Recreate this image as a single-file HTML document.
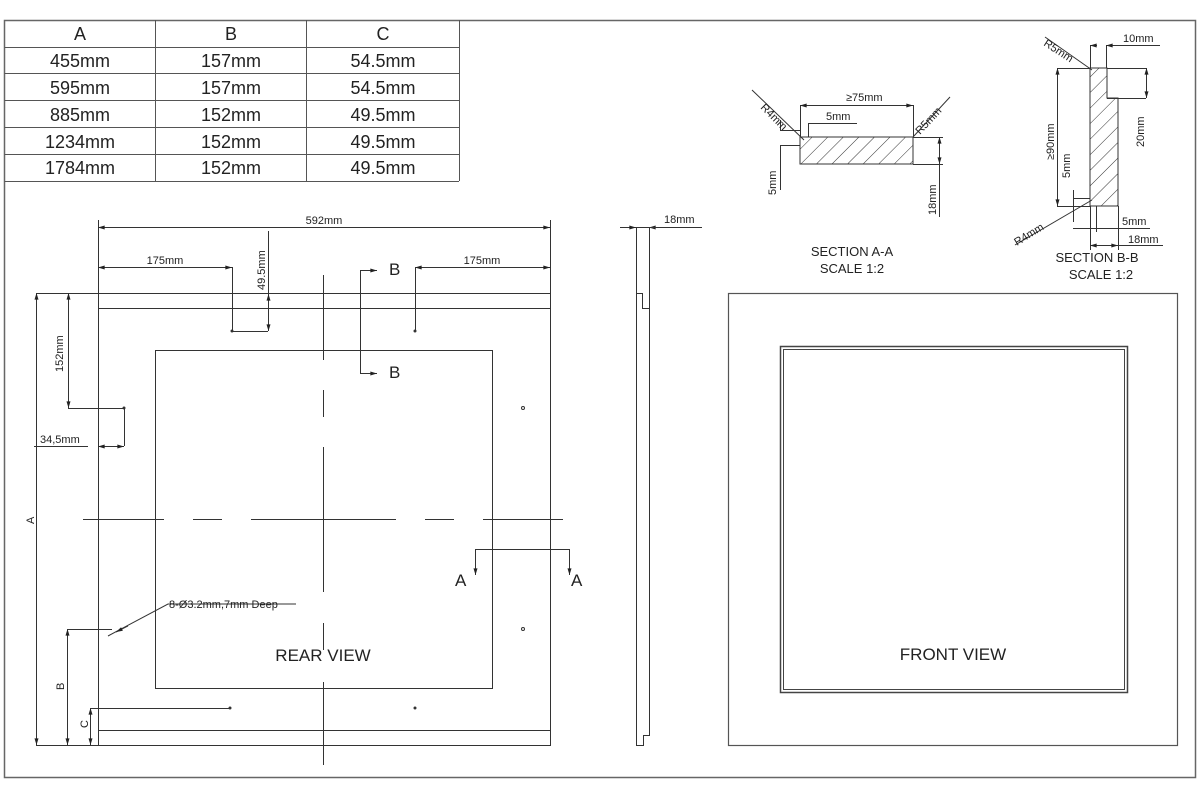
<!DOCTYPE html>
<html><head><meta charset="utf-8"><style>
html,body{margin:0;padding:0;background:#fff;width:1200px;height:800px;overflow:hidden}
svg{display:block}
text{font-family:"Liberation Sans",sans-serif;fill:#222}
</style></head><body>
<svg width="1200" height="800" viewBox="0 0 1200 800" xmlns="http://www.w3.org/2000/svg">
<defs>
<marker id="a" viewBox="0 0 10 6" refX="10" refY="3" markerWidth="8" markerHeight="4" orient="auto-start-reverse"><path d="M0,0L10,3L0,6z" fill="#222"/></marker>
<pattern id="h" patternUnits="userSpaceOnUse" width="11" height="11" patternTransform="rotate(45)"><line x1="0" y1="0" x2="0" y2="11" stroke="#333" stroke-width="1"/></pattern>
</defs>
<g fill="none" stroke="#333" stroke-width="1">
<rect x="4.5" y="20.5" width="1191" height="757" stroke="#666" stroke-width="1.5"/>
<path d="M4.5 47.5H459M4.5 73.5H459M4.5 100.5H459M4.5 127.5H459M4.5 154.5H459M4.5 181.5H459M155.5 20V181M306.5 20V181M459.5 20V181" stroke="#555"/>
</g>
<g font-size="18" text-anchor="middle">
<text x="80" y="40">A</text><text x="231" y="40">B</text><text x="383" y="40">C</text>
<text x="80" y="67">455mm</text><text x="231" y="67">157mm</text><text x="383" y="67">54.5mm</text>
<text x="80" y="94">595mm</text><text x="231" y="94">157mm</text><text x="383" y="94">54.5mm</text>
<text x="80" y="121">885mm</text><text x="231" y="121">152mm</text><text x="383" y="121">49.5mm</text>
<text x="80" y="148">1234mm</text><text x="231" y="148">152mm</text><text x="383" y="148">49.5mm</text>
<text x="80" y="174">1784mm</text><text x="231" y="174">152mm</text><text x="383" y="174">49.5mm</text>
</g>

<!-- REAR VIEW -->
<g fill="none" stroke="#333" stroke-width="1">
<path d="M36 293.5H550.5V745.5H98.5V220M98 308.5H550M98 730.5H550"/>
<rect x="155.5" y="350.5" width="337" height="338"/>
<path d="M323.5 275V360M323.5 390V417M323.5 447V592M323.5 623V650M323.5 682V765"/>
<path d="M83 519.5H164M193 519.5H222M251 519.5H396M425 519.5H454M483 519.5H563"/>
<path d="M550.5 220V293"/>
<path d="M98 227.5H550" marker-start="url(#a)" marker-end="url(#a)"/>
<path d="M98 267.5H232" marker-start="url(#a)" marker-end="url(#a)"/>
<path d="M415 267.5H550" marker-start="url(#a)" marker-end="url(#a)"/>
<path d="M232.5 267V331.5H268"/>
<path d="M415.5 267V331"/>
<path d="M268.5 231V331" />
<path d="M268.5 296V294" marker-end="url(#a)"/>
<path d="M268.5 325V331" marker-end="url(#a)"/>
<path d="M360.5 270V373.5H377M360 270.5H377" />
<path d="M366 270.5H377" marker-end="url(#a)"/>
<path d="M366 373.5H377" marker-end="url(#a)"/>
<path d="M36.5 293V745" marker-start="url(#a)" marker-end="url(#a)"/>
<path d="M68.5 293V408" marker-start="url(#a)" marker-end="url(#a)"/>
<path d="M68 408.5H124.5V446"/>
<path d="M98 446.5H124" marker-start="url(#a)" marker-end="url(#a)"/>
<path d="M34 446.5H88"/>
<path d="M67.5 629V745" marker-start="url(#a)" marker-end="url(#a)"/>
<path d="M67 629.5H112"/>
<path d="M90.5 708V745" marker-start="url(#a)" marker-end="url(#a)"/>
<path d="M90 708.5H230"/>
<path d="M36 745.5H140"/>
<path d="M108 636L168 604H296"/>
<path d="M128 626L116 632" marker-end="url(#a)"/>
<path d="M475.5 575V549.5H569.5V575"/>
<path d="M475.5 565V575" marker-end="url(#a)"/>
<path d="M569.5 565V575" marker-end="url(#a)"/>
</g>
<g fill="#333">
<circle cx="232" cy="331" r="1.5"/><circle cx="415" cy="331" r="1.5"/><circle cx="124" cy="408" r="1.5"/>
<circle cx="230" cy="708" r="1.5"/><circle cx="415" cy="708" r="1.5"/>
</g>
<g fill="none" stroke="#333"><circle cx="523" cy="408" r="1.5"/><circle cx="523" cy="629" r="1.5"/></g>
<g font-size="11">
<text x="324" y="224" text-anchor="middle">592mm</text>
<text x="165" y="264" text-anchor="middle">175mm</text>
<text x="482" y="264" text-anchor="middle">175mm</text>
<text transform="translate(265,290) rotate(-90)">49.5mm</text>
<text transform="translate(63,372) rotate(-90)">152mm</text>
<text x="40" y="443">34,5mm</text>
<text transform="translate(34,524) rotate(-90)">A</text>
<text transform="translate(64,690) rotate(-90)">B</text>
<text transform="translate(88,728) rotate(-90)">C</text>
<text x="169" y="608">8-Ø3.2mm,7mm Deep</text>
</g>
<g font-size="17">
<text x="389" y="275">B</text><text x="389" y="378">B</text>
<text x="455" y="586">A</text><text x="571" y="586">A</text>
<text x="323" y="661" text-anchor="middle">REAR VIEW</text>
<text x="953" y="660" text-anchor="middle">FRONT VIEW</text>
</g>

<!-- SIDE VIEW -->
<g fill="none" stroke="#333">
<path d="M636.5 227V745.5H643.5V735.5H649.5V227"/>
<path d="M636 293.5H642.5V308.5H649"/>
<path d="M620 227.5H636" marker-end="url(#a)"/>
<path d="M665 227.5H649" marker-end="url(#a)"/>
<path d="M636 227.5H702"/>
</g>
<text x="664" y="223" font-size="11">18mm</text>

<!-- FRONT VIEW -->
<g fill="none" stroke="#444">
<rect x="728.5" y="293.5" width="449" height="452" stroke="#555" stroke-width="1.2"/>
<rect x="780.5" y="346.5" width="347" height="346" stroke-width="1.5"/>
<rect x="783.5" y="349.5" width="341" height="340" stroke-width="1"/>
</g>

<!-- SECTION A-A -->
<rect x="800" y="137" width="113" height="27" fill="url(#h)" stroke="#333"/>
<g fill="none" stroke="#333">
<path d="M800.5 105V137M913.5 105V137"/>
<path d="M800 105.5H913" marker-start="url(#a)" marker-end="url(#a)"/>
<path d="M808.5 123V137M808 123.5H857"/>
<path d="M752 90L804 140"/>
<path d="M913 137L950 97"/>
<path d="M913 137.5H943M913 164.5H943"/>
<path d="M939.5 137V164" marker-start="url(#a)" marker-end="url(#a)"/>
<path d="M939.5 164V217"/>
<path d="M780 130.5H800M780 145.5H800"/>
<path d="M780.5 120V130" />
<path d="M780.5 145V190"/>
</g>
<g font-size="11">
<text x="846" y="101">≥75mm</text>
<text x="826" y="120">5mm</text>
<text transform="translate(760,108) rotate(45)">R4mm</text>
<text transform="translate(920,135) rotate(-47)">R5mm</text>
<text transform="translate(936,215) rotate(-90)">18mm</text>
<text transform="translate(776,195) rotate(-90)">5mm</text>
</g>
<g font-size="13" text-anchor="middle">
<text x="852" y="256">SECTION A-A</text><text x="852" y="273">SCALE 1:2</text>
</g>

<!-- SECTION B-B -->
<path d="M1090 68H1107V98H1118V206H1090Z" fill="url(#h)" stroke="#333"/>
<g fill="none" stroke="#333">
<path d="M1107 68.5H1146M1107 98.5H1146"/>
<path d="M1146.5 68V98" marker-start="url(#a)" marker-end="url(#a)"/>
<path d="M1090.5 45V68M1106.5 45V68"/>
<path d="M1106 45.5H1160"/>
<path d="M1097 45.5H1090" marker-end="url(#a)"/>
<path d="M1115 45.5H1106" marker-end="url(#a)"/>
<path d="M1057 68.5H1090M1057 206.5H1090"/>
<path d="M1057.5 68V206" marker-start="url(#a)" marker-end="url(#a)"/>
<path d="M1045 37L1092 70"/>
<path d="M1073.5 190V222M1073 198.5H1090"/>
<path d="M1015 245L1092 200"/>
<path d="M1090.5 206V250M1118.5 206V250M1096.5 206V232"/>
<path d="M1073 228.5H1150"/>
<path d="M1090 245.5H1163"/>
<path d="M1100 245.5H1090" marker-end="url(#a)"/>
<path d="M1108 245.5H1118" marker-end="url(#a)"/>
</g>
<g font-size="11">
<text x="1123" y="42">10mm</text>
<text transform="translate(1043,45) rotate(33)">R5mm</text>
<text transform="translate(1144,147) rotate(-90)">20mm</text>
<text transform="translate(1054,160) rotate(-90)">≥90mm</text>
<text transform="translate(1070,178) rotate(-90)">5mm</text>
<text transform="translate(1017,246) rotate(-32)">R4mm</text>
<text x="1122" y="225">5mm</text>
<text x="1128" y="243">18mm</text>
</g>
<g font-size="13" text-anchor="middle">
<text x="1097" y="262">SECTION B-B</text><text x="1101" y="279">SCALE 1:2</text>
</g>
</svg>
</body></html>
